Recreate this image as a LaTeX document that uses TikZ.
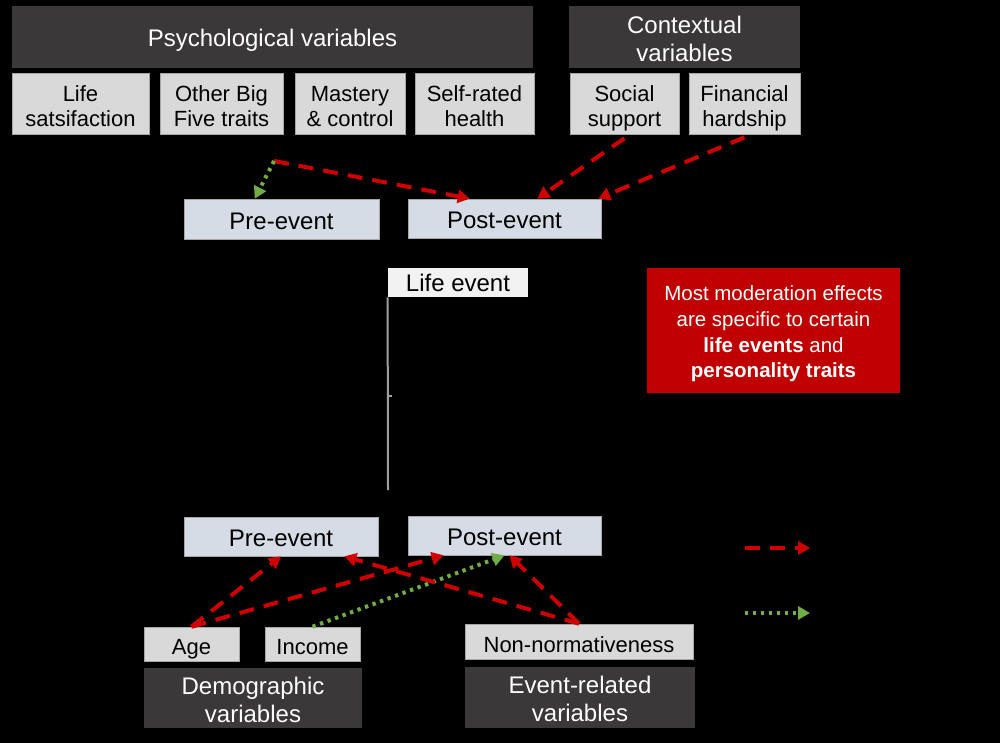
\documentclass[tikz,border=0pt]{standalone}
\usepackage{fontspec}
\setmainfont{Liberation Sans}
\usetikzlibrary{arrows.meta}
\definecolor{darkbox}{HTML}{3A3838}
\definecolor{lightbox}{HTML}{D9D9D9}
\definecolor{phasebox}{HTML}{D6DCE5}
\definecolor{eventbox}{HTML}{F2F2F2}
\definecolor{notered}{HTML}{C00000}
\definecolor{arrowred}{HTML}{D00000}
\definecolor{arrowgreen}{HTML}{70AD47}
\begin{document}
\begin{tikzpicture}[x=0.5pt,y=-0.5pt,
  box/.style={inner sep=0pt, align=center},
  darkb/.style={box, fill=darkbox, text=white, text height=11.5pt, font=\fontsize{12}{14}\selectfont},
  darkbtwo/.style={darkb, text height=24.5pt},
  lightb/.style={box, fill=lightbox, draw=gray!70, line width=0.3pt, text height=10.5pt, text depth=0pt, font=\fontsize{11}{12.5}\selectfont},
  lightbtwo/.style={lightb, text height=23.5pt},
  phaseb/.style={box, fill=phasebox, draw=gray!70, line width=0.3pt, text height=10.5pt, font=\fontsize{12}{14}\selectfont},
  rarr/.style={draw=arrowred, line width=2pt, dash pattern=on 7.5pt off 5pt, -{Triangle[length=6pt,width=6.5pt]}},
  garr/.style={draw=arrowgreen, line width=2pt, dash pattern=on 1.7pt off 2.3pt, -{Triangle[length=6pt,width=6.5pt]}}
]
\fill[black] (0,0) rectangle (1000,743);
\useasboundingbox (0,0) rectangle (1000,743);

% top groups
\node[darkb, minimum width=260.5pt, minimum height=31pt] (psy) at (272.5,37) {Psychological variables};
\node[darkbtwo, minimum width=115.5pt, minimum height=31pt] (ctx) at (684.5,37) {Contextual\\variables};
\node[lightbtwo, minimum width=68.5pt, minimum height=30.5pt] (life) at (80.5,103.5) {Life\\satsifaction};
\node[lightbtwo, minimum width=61.5pt, minimum height=30.5pt] (big5) at (221.5,103.5) {Other Big\\Five traits};
\node[lightbtwo, minimum width=55pt, minimum height=30.5pt] (mast) at (350,103.5) {Mastery\\\& control};
\node[lightbtwo, minimum width=59.5pt, minimum height=30.5pt] (health) at (474.5,103.5) {Self-rated\\health};
\node[lightbtwo, minimum width=54.5pt, minimum height=30.5pt] (social) at (624.5,103.5) {Social\\support};
\node[lightbtwo, minimum width=55.5pt, minimum height=30.5pt] (fin) at (744.5,103.5) {Financial\\hardship};

% top phases
\node[phaseb, minimum width=97.5pt, minimum height=20pt] (pre1) at (281.5,219) {Pre-event};
\node[phaseb, minimum width=96.5pt, minimum height=19.5pt] (post1) at (504.5,218.5) {Post-event};

% life event and timeline
\node[box, fill=eventbox, minimum width=70pt, minimum height=14.5pt, font=\fontsize{12}{14}\selectfont] (lifeev) at (458,282.5) {Life event};
\coordinate (tl) at (388,490);
\draw[gray!75, line width=1pt] (lifeev.south west) -- (tl);
\coordinate (tick) at (392,396);
\draw[gray!75, line width=0.6pt] (388,396) -- (tick);

% note
\node[box, fill=notered, text=white, minimum width=126.5pt, minimum height=62.5pt, text height=49.5pt, font=\fontsize{10.25}{12.85}\selectfont] (note) at (773.5,330.5) {Most moderation effects\\are specific to certain\\\textbf{life events} and\\\textbf{personality traits}};

% bottom phases
\node[phaseb, minimum width=97pt, minimum height=19.5pt] (pre2) at (281,536.5) {Pre-event};
\node[phaseb, minimum width=96.5pt, minimum height=19.5pt] (post2) at (504.5,535.5) {Post-event};

% bottom groups
\node[lightb, minimum width=47.5pt, minimum height=17pt] (age) at (191.5,644) {Age};
\node[lightb, minimum width=47.5pt, minimum height=17pt] (income) at (312.5,644) {Income};
\node[lightb, minimum width=114pt, minimum height=17.5pt] (nonnorm) at (579,641.5) {Non-normativeness};
\node[darkbtwo, minimum width=109pt, minimum height=30pt] (demo) at (253,698) {Demographic\\variables};
\node[darkbtwo, minimum width=115pt, minimum height=30.5pt] (evrel) at (580,697.5) {Event-related\\variables};

% top arrows
\coordinate (j1) at (274,161);
\draw[rarr] (j1) -- ([xshift=31pt]post1.north west);
\draw[garr] (j1) -- ([xshift=35.5pt]pre1.north west);
\draw[rarr] ([yshift=-2pt]social.south) -- ([xshift=-32pt]post1.north east);
\draw[rarr] ([yshift=-1.5pt]fin.south) -- ([xshift=-1.5pt]post1.north east);

% bottom arrows
\draw[rarr] (age.north) -- (pre2.south);
\draw[rarr] (age.north) -- ([xshift=18pt]post2.south west);
\draw[garr] (income.north) -- (post2.south);
\draw[rarr] (nonnorm.north) -- ([xshift=-17pt]pre2.south east);
\draw[rarr] (nonnorm.north) -- ([xshift=2.5pt]post2.south);

% legend
\coordinate (lr1) at (745,548);
\coordinate (lr2) at (810,548);
\coordinate (lg1) at (745,613);
\coordinate (lg2) at (810,613);
\draw[rarr] (lr1) -- (lr2);
\draw[garr] (lg1) -- (lg2);
\end{tikzpicture}
\end{document}
